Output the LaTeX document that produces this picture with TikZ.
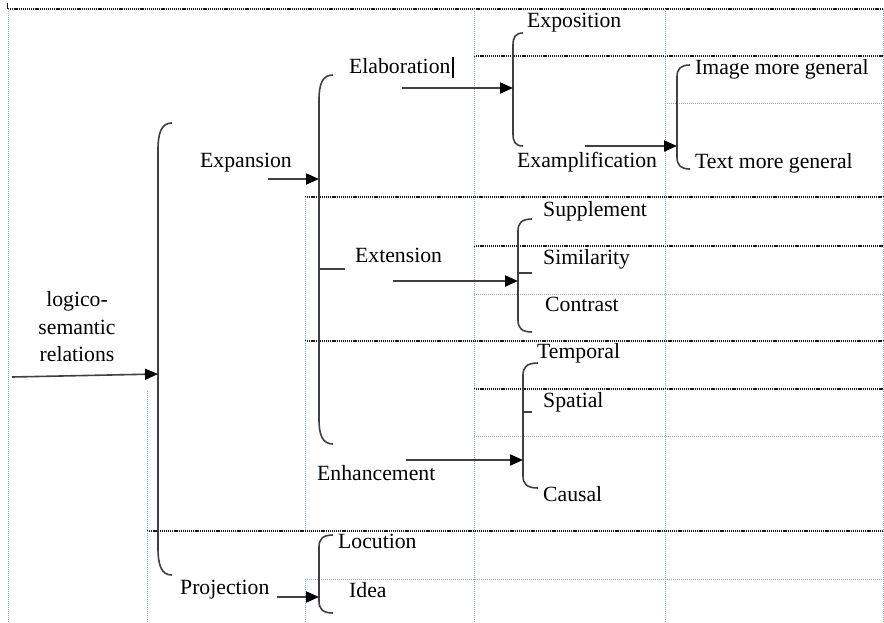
\documentclass[tikz,border=0pt]{standalone}
\usepackage{fontspec}
\setmainfont{Liberation Serif}
\usetikzlibrary{arrows.meta}
\definecolor{gridblue}{HTML}{8FA8C8}
\definecolor{griddark}{HTML}{1A1A1A}
\definecolor{linegray}{HTML}{404040}
\newcommand{\mybrace}[5]{% x, ytop, ybottom, curl width, curl height
  \draw[bracel] (#1+#4,#2) .. controls (#1+0.25*#4,#2) and (#1,#2+0.35*#5) .. (#1,#2+#5)
    -- (#1,#3-#5) .. controls (#1,#3-0.35*#5) and (#1+0.25*#4,#3) .. (#1+#4,#3);}
\begin{document}
\begin{tikzpicture}[x=1pt,y=-1pt,
  lbl/.style={anchor=base west,inner sep=0pt,font=\fontsize{21.7}{27.5}\selectfont},
  darkgrid/.style={griddark,line width=1.2pt,dash pattern=on 1.2pt off 0.9pt},
  bluegrid/.style={gridblue,line width=1pt,dash pattern=on 1pt off 1pt},
  conn/.style={linegray,line width=2pt,-{Triangle[length=13pt,width=11pt,fill=black,color=black]}},
  bracel/.style={linegray,line width=1.6pt},
  tick/.style={linegray,line width=1.6pt}]
\useasboundingbox (0,0) rectangle (884,622);
\fill[white] (0,0) rectangle (884,622);

% table grid
\draw[darkgrid] (8,9) -- (884,9);
\draw[darkgrid] (474,56) -- (884,56);
\draw[bluegrid] (665,103) -- (884,103);
\draw[darkgrid] (305,197) -- (884,197);
\draw[darkgrid] (474,246) -- (884,246);
\draw[bluegrid] (474,294) -- (884,294);
\draw[darkgrid] (305,341) -- (884,341);
\draw[darkgrid] (474,389) -- (884,389);
\draw[bluegrid] (474,436) -- (884,436);
\draw[darkgrid] (147,531) -- (884,531);
\draw[bluegrid] (305,579) -- (884,579);
\draw[bluegrid] (8,9) -- (8,622);
\draw[bluegrid] (147,391) -- (147,622);
\draw[bluegrid] (305,197) -- (305,531);
\draw[bluegrid] (305,579) -- (305,622);
\draw[bluegrid] (474,9) -- (474,622);
\draw[bluegrid] (665,9) -- (665,622);
\draw[bluegrid] (883,9) -- (883,622);
\draw[griddark,line width=0.8pt] (7,3) -- (7,9);

% texts
\node[lbl] (expo) at (527,27) {Exposition};
\node[lbl] (elab) at (349,73) {Elaboration};
\node[lbl] (expa) at (200,167) {Expansion};
\node[lbl] (exam) at (517,167) {Examplification};
\node[lbl] (imag) at (695,74) {Image more general};
\node[lbl] (text) at (695,168) {Text more general};
\node[anchor=center,inner sep=0pt,align=center,font=\fontsize{21.7}{27.5}\selectfont] (logi) at (77,327) {logico-\\semantic\\relations};
\node[lbl] (exte) at (355,262) {Extension};
\node[lbl] (supp) at (543,216) {Supplement};
\node[lbl] (simi) at (543,264) {Similarity};
\node[lbl] (cont) at (545,311) {Contrast};
\node[lbl] (temp) at (537,358) {Temporal};
\node[lbl] (spat) at (543,407) {Spatial};
\node[lbl] (enha) at (317,480) {Enhancement};
\node[lbl] (caus) at (543,501) {Causal};
\node[lbl] (locu) at (338,548) {Locution};
\node[lbl] (idea) at (349,597) {Idea};
\node[lbl] (proj) at (180,594) {Projection};

% text cursor after Elaboration
\draw[black,line width=2pt] (453,57) -- (453,78);

% braces
\mybrace{158}{123}{575}{14}{27}
\mybrace{319}{75}{444}{14}{25}
\mybrace{513}{33}{146}{10}{12}
\mybrace{677}{65}{169}{13}{12}
\mybrace{518}{219}{332}{14}{12}
\mybrace{523}{363}{488}{15}{12}
\mybrace{319}{535}{613}{14}{12}
\draw[tick] (319,269) -- (345,269);
\draw[tick] (518,273) -- (532,273);
\draw[tick] (523,412) -- (532,412);

% connector end points
\coordinate (sLog) at (12,377);   \coordinate (bMain) at (158,374);
\coordinate (sExp) at (268,179);  \coordinate (bExp) at (319,179);
\coordinate (sEla) at (402,88);   \coordinate (bEla) at (513,88);
\coordinate (sExa) at (585,146);  \coordinate (bExa) at (677,146);
\coordinate (sExt) at (393,281);  \coordinate (bExt) at (518,281);
\coordinate (sEnh) at (406,460);  \coordinate (bEnh) at (523,460);
\coordinate (sPro) at (277,597);  \coordinate (bPro) at (319,597);

\draw[conn,line width=1.6pt] (sLog) -- (bMain);
\draw[conn] (sExp) -- (bExp);
\draw[conn] (sEla) -- (bEla);
\draw[conn] (sExa) -- (bExa);
\draw[conn] (sExt) -- (bExt);
\draw[conn] (sEnh) -- (bEnh);
\draw[conn] (sPro) -- (bPro);
\end{tikzpicture}
\end{document}
